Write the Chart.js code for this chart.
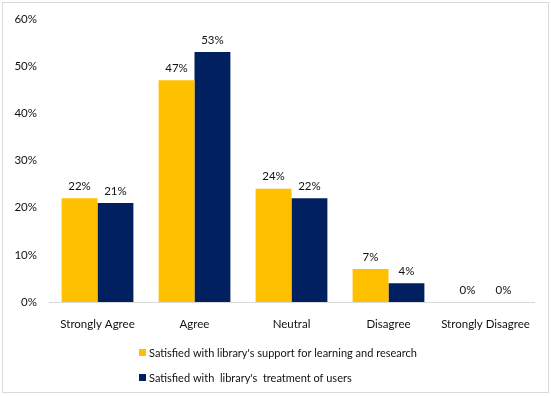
<!DOCTYPE html>
<html><head><meta charset="utf-8">
<script src="https://cdn.jsdelivr.net/npm/chart.js@4/dist/chart.umd.min.js"></script>
<style>html,body{margin:0;padding:0;background:#fff}#wrap{width:551px;height:396px;position:relative}</style>
</head><body><div id="wrap"><canvas id="c" width="551" height="396"></canvas></div>
<script>
const categories = ["Strongly Agree", "Agree", "Neutral", "Disagree", "Strongly Disagree"];
const seriesNames = ["Satisfied with library's support for learning and research", "Satisfied with  library's  treatment of users"];
const supportValues = [22, 47, 24, 7, 0];
const treatmentValues = [21, 53, 22, 4, 0];
const colors = ["#FFC000", "#002060"];
const FONT = "Lato";

const decor = {
  id: 'decor',
  beforeDraw(chart) {
    const ctx = chart.ctx;
    ctx.save();
    ctx.strokeStyle = '#d9d9d9';
    ctx.lineWidth = 1;
    ctx.strokeRect(2.5, 2.5, 546, 390);
    ctx.restore();
  },
  afterDatasetsDraw(chart) {
    const ctx = chart.ctx;
    ctx.save();
    ctx.font = '11.5px ' + FONT;
    ctx.fillStyle = '#111';
    ctx.textAlign = 'center';
    ctx.textBaseline = 'middle';
    chart.data.datasets.forEach((ds, i) => {
      chart.getDatasetMeta(i).data.forEach((bar, j) => {
        ctx.fillText(ds.data[j] + '%', bar.x, bar.y - 12);
      });
    });
    // legend
    ctx.font = '11px ' + FONT;
    const lx = 139, ly = [353, 378];
    chart.data.datasets.forEach((ds, i) => {
      ctx.fillStyle = ds.backgroundColor;
      ctx.fillRect(lx, ly[i] - 4, 7, 7);
      ctx.fillStyle = '#111';
      ctx.textAlign = 'left';
      ctx.fillText(ds.label, lx + 10, ly[i]);
    });
    ctx.restore();
  }
};

new Chart(document.getElementById('c'), {
  type: 'bar',
  data: {
    labels: categories,
    datasets: [
      { label: seriesNames[0], data: supportValues, backgroundColor: colors[0] },
      { label: seriesNames[1], data: treatmentValues, backgroundColor: colors[1] }
    ]
  },
  options: {
    responsive: false,
    animation: false,
    layout: { padding: { top: 15, right: 17, left: 0, bottom: 0 } },
    plugins: { legend: { display: false }, tooltip: { enabled: false } },
    datasets: { bar: { categoryPercentage: 0.74, barPercentage: 1 } },
    scales: {
      x: {
        grid: { display: false, drawTicks: false },
        border: { display: true, color: '#d9d9d9', width: 1 },
        ticks: { color: '#111', font: { family: FONT, size: 11.5 }, padding: 15, maxRotation: 0 },
        afterFit(s) { s.height = 94; }
      },
      y: {
        min: 0, max: 60,
        grid: { display: false, drawTicks: false },
        border: { display: false },
        ticks: { stepSize: 10, color: '#111', font: { family: FONT, size: 11.5 }, padding: 12, callback: v => v + '%' },
        afterFit(s) { s.width = 49; }
      }
    }
  },
  plugins: [decor]
});
</script></body></html>
